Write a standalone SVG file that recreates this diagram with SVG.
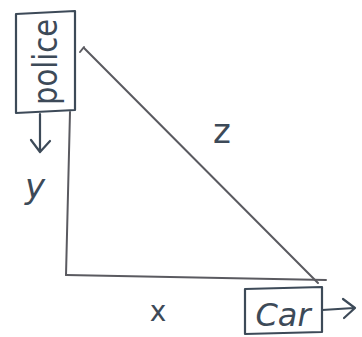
<svg xmlns="http://www.w3.org/2000/svg" width="362" height="337" viewBox="0 0 362 337">
<style>
.ink{fill:none;stroke:#3d4a58;stroke-width:2.2;stroke-linecap:round;stroke-linejoin:round}
.line{fill:none;stroke:#5a5a60;stroke-width:2;stroke-linecap:round}
.t{font-family:"DejaVu Sans",sans-serif;fill:#3d4a58}
</style>
<rect width="362" height="337" fill="#ffffff"/>
<g id="connectors">
<path class="line" d="M70,112 L66,275"/>
<path class="line" d="M66,275 L326,280"/>
<path class="line" d="M84,48 L318,283"/>
<path class="line" d="M80,52 L84,47"/>
<path class="ink" d="M40,114 L40,150 M31,140 L40,152 L50,141"/>
<path class="ink" d="M322,310 L354,308 M343,299 L355,308 L344,318"/>
</g>
<g id="police">
<path class="ink" d="M16,14 L75,11 L75,110 L16,113 Z"/>
<text class="t" font-size="34" transform="translate(57,62) rotate(-90)" text-anchor="middle" textLength="86" lengthAdjust="spacingAndGlyphs">police</text>
</g>
<g id="car">
<path class="ink" d="M245,289 L322,287 L322,332 L245,334 Z"/>
<text class="t" font-size="32" x="283" y="326" text-anchor="middle" font-style="italic">Car</text>
</g>
<g id="labels">
<text class="t" font-size="34" x="35" y="198" text-anchor="middle" font-style="italic">y</text>
<text class="t" font-size="34" x="222" y="143" text-anchor="middle">z</text>
<text class="t" font-size="28" x="158" y="321" text-anchor="middle">x</text>
</g>
</svg>
